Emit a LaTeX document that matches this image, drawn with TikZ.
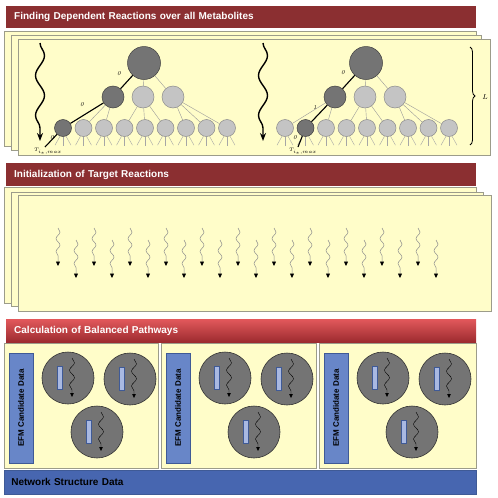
\documentclass[tikz,border=0pt]{standalone}
\usepackage{fontspec}
\setsansfont{Liberation Sans}
\usetikzlibrary{decorations.pathmorphing,decorations.pathreplacing,arrows.meta,calc}
\definecolor{titlered}{HTML}{8B2F31}
\definecolor{redtop}{HTML}{E2585B}
\definecolor{redbot}{HTML}{9C2B2F}
\definecolor{paneyel}{HTML}{FFFDC9}
\definecolor{paneline}{HTML}{9C9C8A}
\definecolor{netblue}{HTML}{4766B0}
\definecolor{efmblue}{HTML}{6886C8}
\definecolor{efmline}{HTML}{3F5A96}
\definecolor{dkgray}{HTML}{747474}
\definecolor{ltgray}{HTML}{C4C4C4}
\definecolor{rectblue}{HTML}{A9B9E2}
\tikzset{
  titlebar/.style={rectangle, anchor=north west, minimum width=470, text width=454, inner xsep=8, align=left,
    text=white, font=\sffamily\bfseries\fontsize{10}{12}\selectfont},
  panel/.style={rectangle, anchor=north west, draw=paneline, fill=paneyel, line width=0.6pt},
  tnode/.style={circle, inner sep=0pt, line width=0.5pt},
  dkc/.style={fill=dkgray, draw=black!75},
  ltc/.style={fill=ltgray, draw=black!45},
  tedge/.style={draw=black!40, line width=0.4pt},
  fan/.style={draw=black!35, line width=0.4pt},
  dpath/.style={draw=black, line width=1.1pt},
  elabel/.style={inner sep=0pt, font=\itshape\fontsize{6}{6}\selectfont},
  tlabel/.style={inner sep=0pt, font=\fontsize{4.5}{5}\selectfont},
  bigwave/.style={line width=1.4pt, decorate, decoration={snake, segment length=40, amplitude=4.5, post length=9pt},
    -{Stealth[length=8pt,width=6pt]}},
  smallwave/.style={draw=black!45, line width=0.5pt, decorate, decoration={snake, segment length=13, amplitude=2, post length=4pt},
    -{Triangle[length=4.5pt,width=4pt,color=black]}},
  cwave/.style={draw=black, line width=0.4pt, decorate, decoration={snake, segment length=15, amplitude=2.5, post length=4pt},
    -{Triangle[length=4pt,width=3.5pt]}},
  gcirc/.style={circle, minimum size=52, inner sep=0pt, fill=dkgray, draw=black!80, line width=0.6pt},
  smallrect/.style={rectangle, minimum width=5, minimum height=23, inner sep=0pt, fill=rectblue, draw=efmline, line width=0.4pt},
  efmbar/.style={rectangle, rotate=90, minimum width=110, minimum height=24, inner sep=0pt, fill=efmblue, draw=efmline,
    line width=0.6pt, font=\sffamily\bfseries\fontsize{8}{9}\selectfont},
}
\newcommand\efmtree[3]{%
 \begin{scope}[shift={(#2,0)}]
  \node[tnode,dkc,minimum size=33] (#1R) at (144,63) {};
  \node[tnode,dkc,minimum size=22] (#1M1) at (113,97) {};
  \node[tnode,ltc,minimum size=22] (#1M2) at (143,97) {};
  \node[tnode,ltc,minimum size=22] (#1M3) at (173,97) {};
  \foreach \i in {1,...,9}{%
    \ifnum\i=#3\relax\def\nst{dkc}\else\def\nst{ltc}\fi
    \node[tnode,\nst,minimum size=17] (#1S\i) at ({42.5+20.5*\i},128) {};
    \draw[fan] (#1S\i.-110) -- ++(-5,9);
    \draw[fan] (#1S\i.south) -- ++(0,9);
    \draw[fan] (#1S\i.-70) -- ++(5,9);
  }
  \foreach \m in {1,2,3} \draw[tedge] (#1R) -- (#1M\m);
  \foreach \m/\s in {1/1,1/2,1/3,2/4,2/5,2/6,3/7,3/8,3/9} \draw[tedge] (#1M\m) -- (#1S\s);
  \draw[dpath] (#1R) -- (#1M1);
  \draw[dpath] (#1M1) -- (#1S#3);
 \end{scope}}
\begin{document}
\begin{tikzpicture}[x=1pt,y=-1pt]
\useasboundingbox (0,0) rectangle (498,498);

% ---------- Section 1 ----------
\node[titlebar, fill=titlered, minimum height=22] (t1) at (6,6) {Finding Dependent Reactions over all Metabolites};
\node[panel, minimum width=472, minimum height=115] (p1a) at (4,31) {};
\node[panel, minimum width=470, minimum height=115] (p1b) at (11,35) {};
\node[panel, minimum width=472, minimum height=116] (p1c) at (18,39) {};

\efmtree{A}{0}{1}
\efmtree{B}{222}{2}

\coordinate (AE) at (45,147);
\draw[dpath] (AS1) -- (AE);
\coordinate (BE) at (298,147);
\draw[dpath] (BS2) -- (BE);

\node[elabel] (A0a) at (119,74) {0};
\node[elabel] (A0b) at (82,105) {0};
\node[elabel] (A0c) at (52,138) {0};
\node[tlabel] (AT) at (48,151) {$T_{i_{\ast},max}$};
\node[elabel] (B0a) at (343,73) {0};
\node[elabel] (B1b) at (315,108) {1};
\node[elabel] (B0c) at (295,138) {0};
\node[tlabel] (BT) at (303,151) {$T_{i_{\ast},max}$};

\coordinate (wA1) at (40,43);
\coordinate (wA2) at (40,141);
\draw[bigwave] (wA1) -- (wA2);
\coordinate (wB1) at (263,43);
\coordinate (wB2) at (263,141);
\draw[bigwave] (wB1) -- (wB2);

\coordinate (brT) at (470,47);
\coordinate (brB) at (470,145);
\draw[decorate, decoration={brace, amplitude=5pt}, line width=0.8pt] (brT) -- (brB);
\node[inner sep=0pt, font=\fontsize{7}{7}\selectfont] (Llab) at (485,97) {$L$};

% ---------- Section 2 ----------
\node[titlebar, fill=titlered, minimum height=23] (t2) at (6,163) {Initialization of Target Reactions};
\node[panel, minimum width=472, minimum height=116] (p2a) at (4,187) {};
\node[panel, minimum width=472, minimum height=114] (p2b) at (11,192) {};
\node[panel, minimum width=473, minimum height=116] (p2c) at (18,195) {};

\foreach \i in {0,...,21}{%
  \pgfmathsetmacro\ax{58+18*\i}
  \ifodd\i
    \coordinate (ws\i) at (\ax,240); \coordinate (we\i) at (\ax,278);
  \else
    \coordinate (ws\i) at (\ax,228); \coordinate (we\i) at (\ax,266);
  \fi
  \draw[smallwave] (ws\i) -- (we\i);
}

% ---------- Section 3 ----------
\node[titlebar, top color=redtop, bottom color=redbot, minimum height=23] (t3) at (6,319) {Calculation of Balanced Pathways};

\foreach \P/\W/\k in {4/154/a,161/155/b,319/157/c}{%
  \node[panel, minimum width=\W, minimum height=125] (pan\k) at (\P,343) {};
  \node[efmbar] (efm\k) at ({\P+17},408) {EFM Candidate Data};
  \foreach \j/\dx/\dy in {1/64/378,2/126/379,3/93/432}{%
    \node[gcirc] (c\k\j) at ({\P+\dx},\dy) {};
    \node[smallrect] (r\k\j) at ($(c\k\j)+(-8.5,0)$) {};
    \coordinate (cs\k\j) at ($(c\k\j)+(4,-20)$);
    \coordinate (ce\k\j) at ($(c\k\j)+(4,19)$);
    \draw[cwave] (cs\k\j) -- (ce\k\j);
  }
}

\node[rectangle, anchor=north west, fill=netblue, draw=efmline, line width=0.6pt, minimum width=472, minimum height=24,
  text width=458, inner xsep=7, align=left, font=\sffamily\bfseries\fontsize{10}{12}\selectfont] (net) at (4,470) {Network Structure Data};
\end{tikzpicture}
\end{document}
